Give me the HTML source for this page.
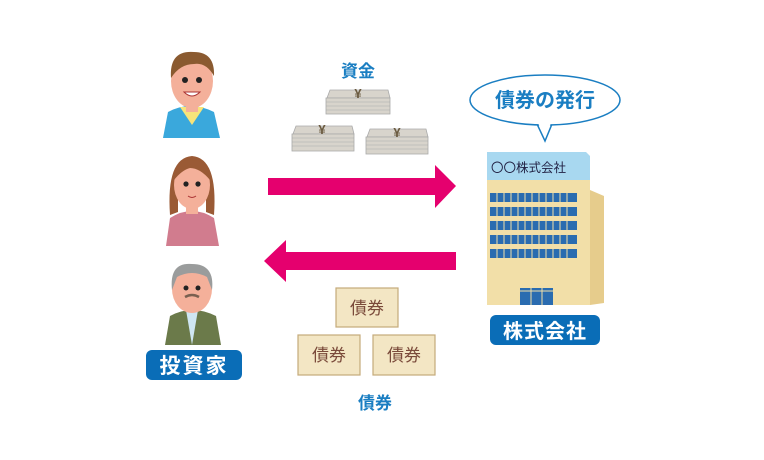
<!DOCTYPE html>
<html><head><meta charset="utf-8"><style>
body{margin:0;background:#fff}
svg{display:block}
text{font-family:"Liberation Sans","Noto Sans CJK JP",sans-serif}
</style></head><body>
<svg width="764" height="460" viewBox="0 0 764 460" xmlns="http://www.w3.org/2000/svg">
<rect width="764" height="460" fill="#fff"/>
<!-- person 1 -->
<path d="M163 138 L168 112 Q190 100 214 112 L220 138 Z" fill="#3aa8dc"/>
<path d="M180 107 L192 125 L204 107 Z" fill="#f7e47a"/>
<rect x="186" y="98" width="12" height="14" fill="#f4b09a"/>
<ellipse cx="192" cy="81" rx="21" ry="27" fill="#f4b09a"/>
<path d="M171 78 Q169 50 194 52 Q215 52 214 76 Q206 62 194 64 Q180 64 171 78Z" fill="#8a5a30"/>
<circle cx="185" cy="80" r="3" fill="#222"/><circle cx="199" cy="80" r="3" fill="#222"/>
<path d="M184 92 Q192 100 200 92 Z" fill="#fff" stroke="#a33" stroke-width="1"/>
<!-- person 2 -->
<path d="M166 246 L170 218 Q192 204 214 218 L219 246 Z" fill="#d17c8e"/>
<rect x="186" y="200" width="12" height="14" fill="#f4b09a"/>
<path d="M170 215 Q166 158 192 156 Q218 158 214 215 L206 212 L206 185 L178 185 L178 212Z" fill="#9a5a35"/>
<ellipse cx="192" cy="185" rx="18" ry="24" fill="#f4b09a"/>
<path d="M174 180 Q177 158 192 160 Q209 160 210 180 Q200 168 190 168 Q182 170 174 180Z" fill="#9a5a35"/>
<circle cx="186" cy="184" r="2.6" fill="#222"/><circle cx="198" cy="184" r="2.6" fill="#222"/>
<path d="M188 196 Q192 199 196 196" stroke="#a33" fill="none"/>
<!-- person 3 -->
<path d="M165 345 L170 316 Q192 304 216 316 L221 345 Z" fill="#6b7a4a"/>
<path d="M186 310 L192 345 L198 310 Z" fill="#cfe6f2"/>
<rect x="186" y="300" width="12" height="12" fill="#f4b09a"/>
<ellipse cx="192" cy="289" rx="20" ry="24" fill="#f4b09a"/>
<path d="M172 290 Q169 262 192 264 Q215 264 212 290 L207 277 Q192 269 177 277Z" fill="#9a9c9c"/>
<circle cx="186" cy="288" r="2.5" fill="#222"/><circle cx="198" cy="288" r="2.5" fill="#222"/>
<path d="M185 297 Q192 293 199 297" stroke="#7a6050" stroke-width="2.5" fill="none"/>
<!-- label 投資家 -->
<rect x="146" y="350" width="96" height="30" rx="6" fill="#0a6db7"/>
<text x="194" y="373" font-size="21" font-weight="bold" fill="#fff" text-anchor="middle" letter-spacing="2">投資家</text>
<!-- money -->
<text x="358" y="77" font-size="17" font-weight="bold" fill="#1a7ec2" text-anchor="middle">資金</text>
<g fill="#d8d4cc" stroke="#aaa" stroke-width="0.8">
<path d="M330 90 L388 90 L390 98 L327 98Z"/>
<rect x="326" y="98" width="64" height="16"/>
<path d="M296 126 L352 126 L354 134 L293 134Z"/>
<rect x="292" y="134" width="62" height="17"/>
<path d="M370 129 L426 129 L428 137 L367 137Z"/>
<rect x="366" y="137" width="62" height="17"/>
</g>
<g stroke="#aaa" stroke-width="0.6">
<line x1="326" y1="102" x2="390" y2="102"/><line x1="326" y1="106" x2="390" y2="106"/><line x1="326" y1="110" x2="390" y2="110"/>
<line x1="292" y1="138" x2="354" y2="138"/><line x1="292" y1="142" x2="354" y2="142"/><line x1="292" y1="146" x2="354" y2="146"/>
<line x1="366" y1="141" x2="428" y2="141"/><line x1="366" y1="145" x2="428" y2="145"/><line x1="366" y1="149" x2="428" y2="149"/>
</g>
<g font-size="13" fill="#6a5a40" text-anchor="middle" font-weight="bold">
<text x="358" y="98">¥</text><text x="322" y="134">¥</text><text x="397" y="137">¥</text>
</g>
<!-- arrows -->
<path d="M268 178 L435 178 L435 165 L456 186 L435 208 L435 195 L268 195Z" fill="#e5006e"/>
<path d="M456 252 L286 252 L286 240 L264 261 L286 282 L286 270 L456 270Z" fill="#e5006e"/>
<!-- bonds -->
<g fill="#f3e6c4" stroke="#c4aa7a" stroke-width="1.2">
<rect x="336" y="288" width="62" height="39"/>
<rect x="298" y="335" width="62" height="40"/>
<rect x="373" y="335" width="62" height="40"/>
</g>
<g font-size="17" fill="#7a4a3a" text-anchor="middle">
<text x="367" y="314">債券</text><text x="329" y="361">債券</text><text x="404" y="361">債券</text>
</g>
<text x="375" y="409" font-size="17" font-weight="bold" fill="#1a7ec2" text-anchor="middle">債券</text>
<!-- bubble -->
<path d="M537 124 L545 141 L552 124" fill="#fff" stroke="#1a7ec2" stroke-width="1.5"/>
<ellipse cx="545" cy="100" rx="75" ry="25" fill="#fff" stroke="#1a7ec2" stroke-width="1.5"/>
<path d="M538 123 L545 138 L551 123Z" fill="#fff"/>
<text x="545" y="107" font-size="20" font-weight="bold" fill="#1a7ec2" text-anchor="middle">債券の発行</text>
<!-- building -->
<path d="M590 190 L604 196 L604 303 L590 305Z" fill="#e6cc8c"/>
<rect x="487" y="180" width="103" height="125" fill="#f2dfa8"/>
<path d="M487 152 L586 152 L590 156 L590 180 L487 180Z" fill="#a8d8f0"/>
<text x="491" y="172" font-size="12.5" fill="#224">〇〇株式会社</text>
<g fill="#2a6cb0">
<rect x="490" y="193" width="87" height="9"/>
<rect x="490" y="207" width="87" height="9"/>
<rect x="490" y="221" width="87" height="9"/>
<rect x="490" y="235" width="87" height="9"/>
<rect x="490" y="249" width="87" height="9"/>
<rect x="520" y="288" width="33" height="17"/>
</g>
<g stroke="#f2dfa8" stroke-width="1">
<path d="M497 190 V260 M504 190 V260 M511 190 V260 M518 190 V260 M525 190 V260 M532 190 V260 M539 190 V260 M546 190 V260 M553 190 V260 M560 190 V260 M567 190 V260 M531 288 V305 M542 288 V305 M520 291 H553"/>
</g>
<rect x="490" y="315" width="110" height="30" rx="6" fill="#0a6db7"/>
<text x="545" y="338" font-size="20" font-weight="bold" fill="#fff" text-anchor="middle" letter-spacing="1">株式会社</text>
</svg>
</body></html>
